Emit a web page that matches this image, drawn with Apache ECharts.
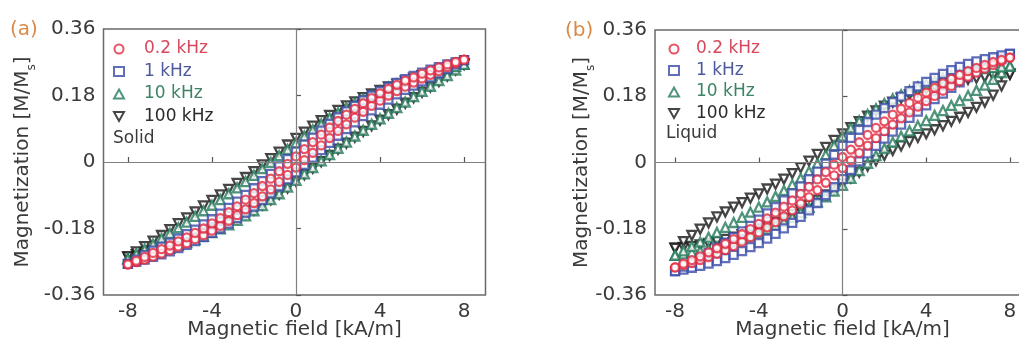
<!DOCTYPE html>
<html><head><meta charset="utf-8">
<script src="https://cdn.jsdelivr.net/npm/echarts@6/dist/echarts.min.js"></script>
<style>html,body{margin:0;padding:0;background:#fff}#c{width:1019px;height:342px}</style>
</head><body><div id="c"></div>
<script>
const fieldH = [-8,-7.6,-7.2,-6.8,-6.4,-6,-5.6,-5.2,-4.8,-4.4,-4,-3.6,-3.2,-2.8,-2.4,-2,-1.6,-1.2,-0.8,-0.4,0,0.4,0.8,1.2,1.6,2,2.4,2.8,3.2,3.6,4,4.4,4.8,5.2,5.6,6,6.4,6.8,7.2,7.6,8];
const seriesNames = ['0.2 kHz','1 kHz','10 kHz','100 kHz'];
const xTicks = [-8,-4,0,4,8];
const xTickLabels = ['-8','-4','0','4','8'];
const yTicks = [-0.36,-0.18,0,0.18,0.36];
const yTickLabels = ['-0.36','-0.18','0','0.18','0.36'];
const panelLabels = ['(a)','(b)'];
const stateLabels = ['Solid','Liquid'];

// (a) Solid. "Up" = branch swept from +8 down to -8, "Down" = branch swept from -8 up to +8; both listed along fieldH
const solid02kUp = [-0.277,-0.267,-0.257,-0.246,-0.236,-0.226,-0.215,-0.204,-0.192,-0.180,-0.166,-0.152,-0.136,-0.120,-0.102,-0.084,-0.065,-0.045,-0.025,-0.005,0.015,0.035,0.054,0.074,0.093,0.111,0.128,0.144,0.159,0.173,0.186,0.198,0.209,0.220,0.229,0.239,0.248,0.256,0.264,0.271,0.277];
const solid02kDown = [-0.277,-0.271,-0.264,-0.256,-0.248,-0.239,-0.229,-0.220,-0.209,-0.198,-0.186,-0.173,-0.159,-0.144,-0.128,-0.111,-0.093,-0.074,-0.054,-0.035,-0.015,0.005,0.025,0.045,0.065,0.084,0.102,0.120,0.136,0.152,0.166,0.180,0.192,0.204,0.215,0.226,0.236,0.246,0.257,0.267,0.277];
const solid1kUp = [-0.276,-0.264,-0.252,-0.240,-0.229,-0.218,-0.207,-0.195,-0.183,-0.169,-0.155,-0.140,-0.124,-0.107,-0.089,-0.071,-0.052,-0.032,-0.012,0.008,0.028,0.047,0.066,0.085,0.103,0.121,0.137,0.152,0.167,0.180,0.192,0.203,0.214,0.224,0.233,0.242,0.250,0.257,0.264,0.270,0.276];
const solid1kDown = [-0.276,-0.270,-0.264,-0.257,-0.250,-0.242,-0.233,-0.224,-0.214,-0.203,-0.192,-0.180,-0.167,-0.152,-0.137,-0.121,-0.103,-0.085,-0.066,-0.047,-0.028,-0.008,0.012,0.032,0.052,0.071,0.089,0.107,0.124,0.140,0.155,0.169,0.183,0.195,0.207,0.218,0.229,0.240,0.252,0.264,0.276];
const solid10kUp = [-0.262,-0.249,-0.236,-0.222,-0.207,-0.193,-0.178,-0.163,-0.147,-0.132,-0.117,-0.102,-0.086,-0.070,-0.053,-0.036,-0.018,-0.001,0.017,0.034,0.052,0.070,0.087,0.103,0.119,0.133,0.147,0.159,0.171,0.182,0.192,0.202,0.211,0.219,0.227,0.235,0.241,0.248,0.254,0.259,0.264];
const solid10kDown = [-0.262,-0.257,-0.252,-0.246,-0.239,-0.233,-0.226,-0.218,-0.210,-0.201,-0.191,-0.181,-0.170,-0.158,-0.146,-0.132,-0.118,-0.102,-0.086,-0.068,-0.050,-0.032,-0.015,0.003,0.020,0.037,0.054,0.070,0.086,0.102,0.117,0.132,0.147,0.162,0.177,0.191,0.205,0.220,0.234,0.249,0.264];
const solid100kUp = [-0.257,-0.243,-0.229,-0.214,-0.199,-0.183,-0.167,-0.151,-0.135,-0.119,-0.104,-0.089,-0.074,-0.058,-0.042,-0.026,-0.008,0.009,0.027,0.046,0.064,0.081,0.097,0.112,0.126,0.140,0.152,0.163,0.174,0.184,0.194,0.203,0.211,0.219,0.227,0.234,0.240,0.247,0.253,0.259,0.265];
const solid100kDown = [-0.257,-0.251,-0.245,-0.239,-0.232,-0.225,-0.218,-0.210,-0.202,-0.193,-0.184,-0.174,-0.164,-0.153,-0.142,-0.130,-0.116,-0.102,-0.087,-0.070,-0.052,-0.034,-0.017,0.001,0.018,0.035,0.051,0.067,0.083,0.098,0.113,0.128,0.143,0.159,0.174,0.189,0.203,0.218,0.233,0.249,0.265];

// (b) Liquid
const liquid02kUp = [-0.285,-0.275,-0.265,-0.255,-0.244,-0.233,-0.221,-0.208,-0.195,-0.181,-0.167,-0.152,-0.136,-0.120,-0.103,-0.085,-0.066,-0.046,-0.026,-0.006,0.015,0.035,0.055,0.075,0.094,0.112,0.130,0.146,0.162,0.176,0.190,0.203,0.215,0.227,0.238,0.248,0.257,0.265,0.273,0.279,0.285];
const liquid02kDown = [-0.285,-0.279,-0.273,-0.265,-0.257,-0.248,-0.238,-0.227,-0.215,-0.203,-0.190,-0.176,-0.162,-0.146,-0.130,-0.112,-0.094,-0.075,-0.055,-0.035,-0.015,0.006,0.026,0.046,0.066,0.085,0.103,0.120,0.136,0.152,0.167,0.181,0.195,0.208,0.221,0.233,0.244,0.255,0.265,0.275,0.285];
const liquid1kUp = [-0.295,-0.283,-0.271,-0.259,-0.246,-0.232,-0.218,-0.203,-0.187,-0.172,-0.155,-0.138,-0.121,-0.103,-0.084,-0.065,-0.045,-0.025,-0.003,0.021,0.045,0.067,0.089,0.110,0.130,0.148,0.164,0.179,0.194,0.207,0.219,0.230,0.241,0.251,0.260,0.268,0.275,0.281,0.286,0.291,0.295];
const liquid1kDown = [-0.295,-0.291,-0.286,-0.281,-0.275,-0.268,-0.260,-0.251,-0.241,-0.230,-0.219,-0.207,-0.194,-0.179,-0.164,-0.148,-0.130,-0.110,-0.089,-0.067,-0.045,-0.021,0.003,0.025,0.045,0.065,0.084,0.103,0.121,0.138,0.155,0.172,0.187,0.203,0.218,0.232,0.246,0.259,0.271,0.283,0.295];
const liquid10kUp = [-0.252,-0.240,-0.228,-0.216,-0.203,-0.190,-0.176,-0.163,-0.149,-0.135,-0.121,-0.107,-0.092,-0.076,-0.060,-0.043,-0.024,-0.003,0.021,0.046,0.072,0.094,0.113,0.130,0.146,0.160,0.173,0.184,0.195,0.205,0.214,0.222,0.229,0.236,0.242,0.248,0.252,0.255,0.258,0.260,0.262];
const liquid10kDown = [-0.252,-0.248,-0.244,-0.240,-0.235,-0.229,-0.223,-0.216,-0.208,-0.200,-0.191,-0.181,-0.171,-0.160,-0.149,-0.136,-0.122,-0.107,-0.093,-0.078,-0.062,-0.043,-0.022,-0.002,0.019,0.038,0.055,0.071,0.086,0.100,0.114,0.128,0.141,0.155,0.168,0.182,0.196,0.210,0.226,0.244,0.262];
const liquid100kUp = [-0.233,-0.215,-0.198,-0.181,-0.164,-0.148,-0.134,-0.121,-0.109,-0.097,-0.085,-0.072,-0.059,-0.045,-0.030,-0.014,0.004,0.022,0.041,0.060,0.078,0.095,0.111,0.126,0.140,0.153,0.164,0.175,0.184,0.193,0.200,0.206,0.212,0.217,0.222,0.226,0.229,0.232,0.235,0.238,0.240];
const liquid100kDown = [-0.233,-0.231,-0.228,-0.224,-0.220,-0.215,-0.209,-0.203,-0.196,-0.189,-0.181,-0.172,-0.163,-0.152,-0.141,-0.129,-0.116,-0.102,-0.088,-0.073,-0.058,-0.042,-0.026,-0.010,0.005,0.019,0.033,0.045,0.057,0.068,0.078,0.089,0.100,0.112,0.123,0.136,0.150,0.164,0.183,0.208,0.240];

const FONT = 'DejaVu Sans';
const colors = ['#e2293f','#3a4aa8','#24795a','#161616'];
const textColors = ['#d8485c','#4c5a9c','#3c8463','#2a2a2a'];
const symbols = ['circle','rect','triangle','path://M0,0L10,0L5,9Z'];
const sizes = [8,8,9,9];

function loop(up, down) {
  const d = [];
  for (let i = 0; i < fieldH.length; i++) d.push([fieldH[i], down[i]]);
  for (let i = fieldH.length - 1; i >= 0; i--) d.push([fieldH[i], up[i]]);
  return d;
}
const panels = [
  [[solid02kUp,solid02kDown],[solid1kUp,solid1kDown],[solid10kUp,solid10kDown],[solid100kUp,solid100kDown]],
  [[liquid02kUp,liquid02kDown],[liquid1kUp,liquid1kDown],[liquid10kUp,liquid10kDown],[liquid100kUp,liquid100kDown]]
];

const grids = [
  {left:103.5, top:29, width:382, height:266},
  {left:655, top:30, width:375, height:265}
];
const xRanges = [[-9.16,9.02],[-8.96,8.96]];
const yNameGaps = [66, 58];

const xAxes = [], yAxes = [], series = [];
for (let p = 0; p < 2; p++) {
  xAxes.push({
    gridIndex:p, type:'value', min:xRanges[p][0], max:xRanges[p][1],
    axisLine:{show:false}, splitLine:{show:false},
    axisTick:{show:true, inside:true, length:5, customValues:xTicks, lineStyle:{color:'#555', width:1.2}},
    axisLabel:{customValues:xTicks, formatter:v=>xTickLabels[xTicks.indexOf(v)], fontSize:20, fontFamily:FONT, color:'#3a3a3a', margin:7},
    name:'Magnetic field [kA/m]', nameLocation:'middle', nameGap:25, nameMoveOverlap:false,
    nameTextStyle:{fontSize:20, fontFamily:FONT, color:'#3a3a3a'}
  });
  yAxes.push({
    gridIndex:p, type:'value', min:-0.36, max:0.36,
    axisLine:{show:false}, splitLine:{show:false},
    axisTick:{show:true, inside:true, length:5, customValues:yTicks, lineStyle:{color:'#555', width:1.2}},
    axisLabel:{customValues:yTicks, formatter:v=>{let i=yTicks.findIndex(t=>Math.abs(t-v)<1e-9);return yTickLabels[i];}, fontSize:20, fontFamily:FONT, color:'#3a3a3a', margin:8},
    name:'Magnetization [M/M{sub|s}]', nameLocation:'middle', nameRotate:90, nameGap:yNameGaps[p], nameMoveOverlap:false,
    nameTextStyle:{fontSize:20, fontFamily:FONT, color:'#3a3a3a', lineHeight:24,
      rich:{sub:{fontSize:12, fontFamily:FONT, color:'#3a3a3a', verticalAlign:'bottom', lineHeight:30}}}
  });
  for (let k = 3; k >= 0; k--) {
    const s = {
      type:'scatter', name:seriesNames[k], xAxisIndex:p, yAxisIndex:p,
      data: loop(panels[p][k][0], panels[p][k][1]),
      symbol:symbols[k], symbolSize:sizes[k],
      itemStyle:{color:'#ffffff', borderColor:colors[k], borderWidth:2.3},
      animation:false, silent:true
    };
    if (k === 3) {
      s.markLine = {silent:true, symbol:['none','none'], label:{show:false}, animation:false,
        lineStyle:{color:'#808080', width:1.2, type:'solid'},
        data:[{yAxis:0},{xAxis:0}]};
    }
    series.push(s);
  }
}

const legends = [
  {left:113, top:40, pad:15, itemGap:4.5},
  {left:668, top:40, pad:12, itemGap:3.5}
].map(l => ({
  orient:'vertical', left:l.left, top:l.top, itemWidth:10, itemHeight:9, itemGap:l.itemGap,
  padding:0, selectedMode:false,
  textStyle:{fontSize:17, fontFamily:FONT, lineHeight:18, padding:[0,0,0,l.pad]},
  data: seriesNames.map((n,i)=>({name:n, textStyle:{color:textColors[i]}}))
}));

const graphic = [
  {type:'text', left:10, top:20, style:{text:panelLabels[0], fill:'#d98a46', font:'20px "DejaVu Sans"'}},
  {type:'text', left:565, top:21, style:{text:panelLabels[1], fill:'#d98a46', font:'20px "DejaVu Sans"'}},
  {type:'text', left:113, top:130, style:{text:stateLabels[0], fill:'#3a3a3a', font:'17px "DejaVu Sans"'}},
  {type:'text', left:666, top:125, style:{text:stateLabels[1], fill:'#3a3a3a', font:'17px "DejaVu Sans"'}}
];

const chart = echarts.init(document.getElementById('c'), null, {renderer:'canvas'});
chart.setOption({
  animation:false,
  backgroundColor:'#ffffff',
  grid: grids.map(g => Object.assign({show:true, borderColor:'#6a6a6a', borderWidth:1.5, backgroundColor:'transparent', outerBoundsMode:'none', containLabel:false}, g)),
  xAxis:xAxes, yAxis:yAxes, legend:legends, series:series, graphic:graphic
});
</script></body></html>
